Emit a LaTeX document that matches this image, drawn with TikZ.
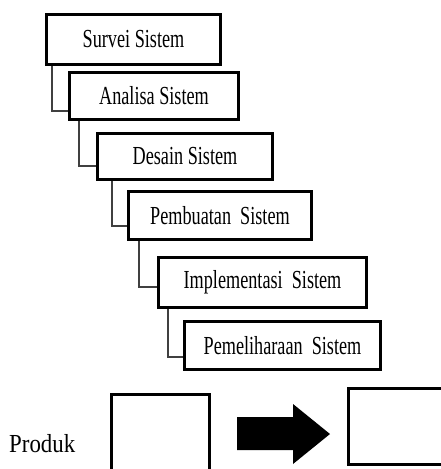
\documentclass[tikz,border=0pt]{standalone}
\usepackage{fontspec}
\setmainfont{Liberation Serif}
\newfontfamily\stagefont{Liberation Serif}[FakeStretch=0.70]
\newfontfamily\labelfont{Liberation Serif}[FakeStretch=0.88]
\begin{document}
\begin{tikzpicture}[x=1pt,y=1pt,
  stagebox/.style={draw=black, line width=3pt, fill=white, inner sep=0pt,
    anchor=north west, font=\stagefont\fontsize{26}{28}\selectfont},
  emptybox/.style={draw=black, line width=3pt, inner sep=0pt, anchor=north west},
  link/.style={draw=black!75, line width=1.6pt}]
  \clip (0,0) rectangle (441,-469);
  \fill[white] (0,0) rectangle (441,-469);

  % the six stages, each one step lower and further right
  \node[stagebox, minimum width=174pt, minimum height=50pt] (s1) at (45,-13) {Survei Sistem};
  \node[stagebox, minimum width=169pt, minimum height=47pt] (s2) at (68,-71) {Analisa Sistem};
  \node[stagebox, minimum width=175pt, minimum height=46pt] (s3) at (96,-132) {Desain Sistem};
  \node[stagebox, minimum width=183pt, minimum height=48pt] (s4) at (127,-190) {Pembuatan\ \ Sistem};
  \node[stagebox, minimum width=208pt, minimum height=50pt] (s5) at (157,-256) {Implementasi\ \ Sistem};
  \node[stagebox, minimum width=196pt, minimum height=48pt] (s6) at (183,-320) {Pemeliharaan\ \ Sistem};

  % elbow links from each stage down to the next
  \draw[link] ([xshift=7pt]s1.south west) |- ([yshift=10pt]s2.south west);
  \draw[link] ([xshift=11pt]s2.south west) |- ([yshift=15pt]s3.south west);
  \draw[link] ([xshift=16pt]s3.south west) |- ([yshift=15pt]s4.south west);
  \draw[link] ([xshift=12pt]s4.south west) |- ([yshift=22pt]s5.south west);
  \draw[link] ([xshift=11pt]s5.south west) |- ([yshift=14pt]s6.south west);

  % product row
  \node[anchor=base west, inner sep=0pt, font=\labelfont\fontsize{26}{28}\selectfont] (prod) at (9,-452) {Produk};
  \node[emptybox, minimum width=98pt, minimum height=130pt] (pa) at (110,-393) {};
  \node[emptybox, minimum width=160pt, minimum height=76pt] (pb) at (347,-387) {};
  \fill[black] (237,-417) -- (293,-417) -- (293,-404) -- (330,-434)
    -- (293,-464) -- (293,-450) -- (237,-450) -- cycle;
\end{tikzpicture}
\end{document}
